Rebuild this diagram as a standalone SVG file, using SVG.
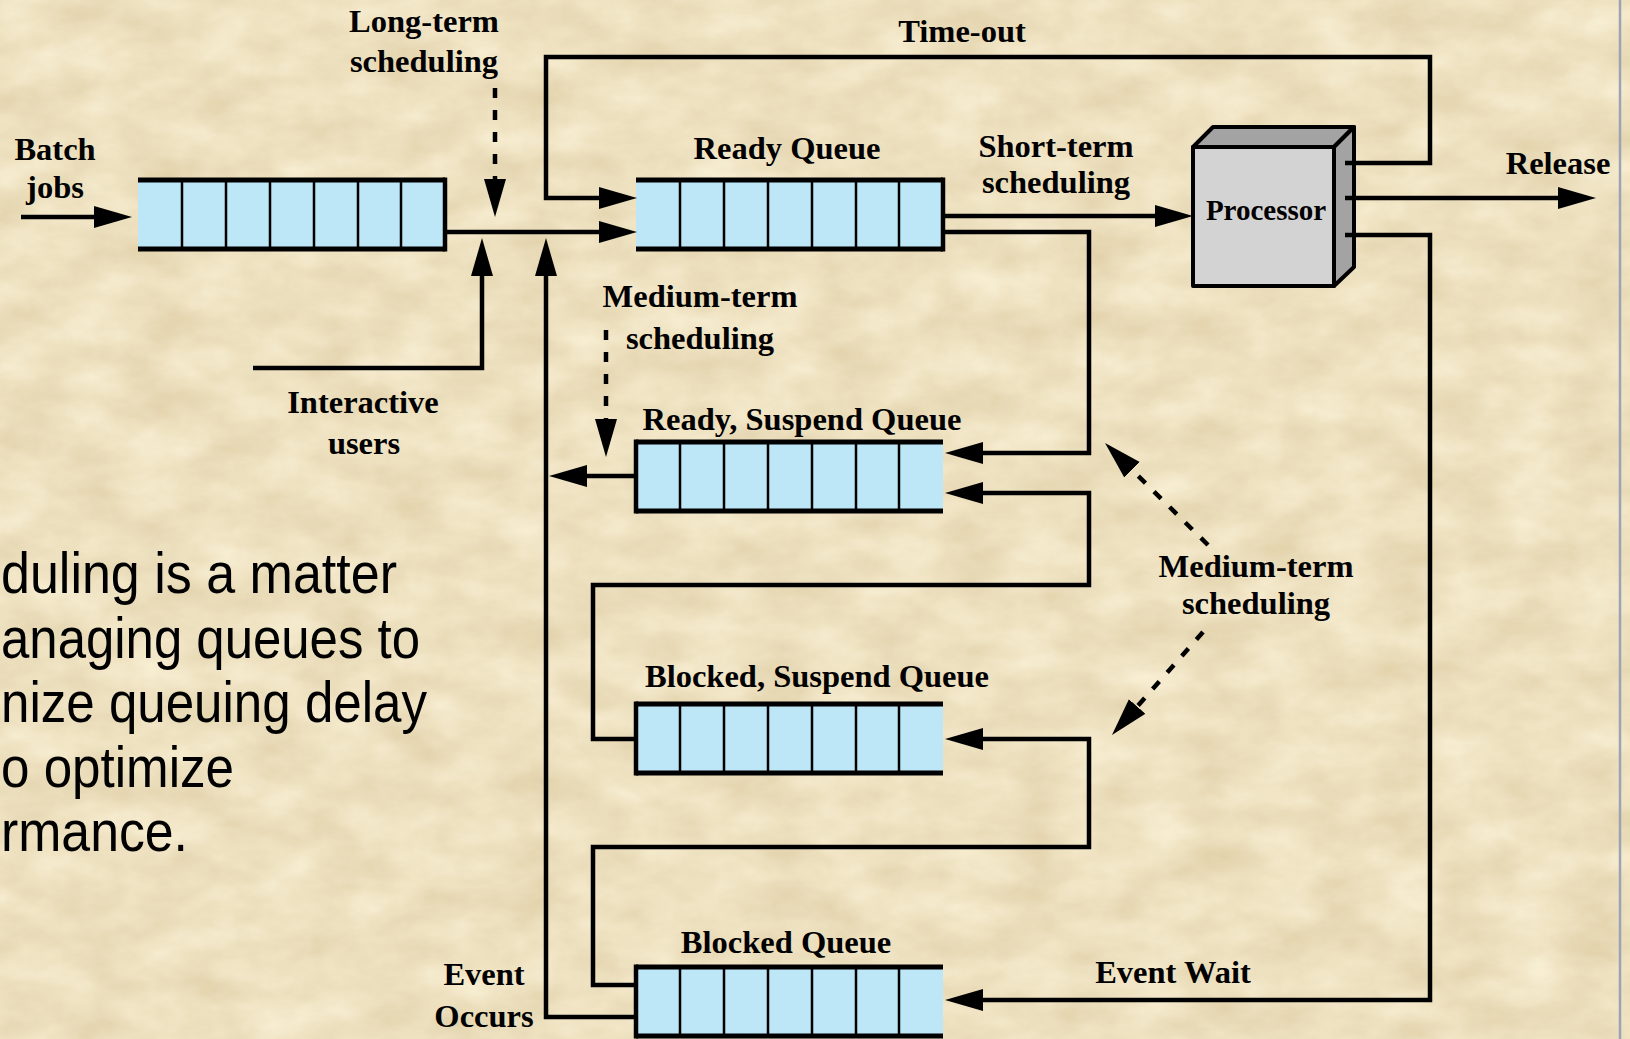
<svg xmlns="http://www.w3.org/2000/svg" xmlns:xlink="http://www.w3.org/1999/xlink" width="1630" height="1039" viewBox="0 0 1630 1039">
  <style>
    .lbl { font-family: "Liberation Serif", "Times New Roman", serif; font-weight: bold; font-size: 32.5px; fill: #000; text-anchor: middle; }
    .proc { font-size: 29px; }
    .body { font-family: "Liberation Sans", Arial, sans-serif; font-size: 58px; fill: #000; }
    .wire { fill: none; stroke: #000; stroke-width: 4.5; stroke-linejoin: miter; }
    .arrow { marker-end: url(#ah); }
    .dash { stroke-dasharray: 10 12; }
    .cell { fill: #bde6f7; }
    .rail { stroke: #000; stroke-width: 5; fill: none; }
    .div { stroke: #000; stroke-width: 2.5; }
    .end { stroke: #000; stroke-width: 4.5; }
  </style>
  <defs>
    <filter id="parchment" filterUnits="userSpaceOnUse" x="0" y="0" width="1630" height="1039" color-interpolation-filters="sRGB">
      <feTurbulence type="fractalNoise" baseFrequency="0.016 0.026" numOctaves="6" seed="11" result="noise"/>
      <feColorMatrix in="noise" type="matrix" values="0.1 0 0 0 0.88  0.13 0 0 0 0.815  0.18 0 0 0 0.66  0 0 0 0 1"/>
    </filter>
    <marker id="ah" markerUnits="userSpaceOnUse" markerWidth="40" markerHeight="24" viewBox="0 0 40 24" refX="20" refY="12" orient="auto">
      <path d="M0,1 L38,12 L0,23 Z" fill="#000"/>
    </marker>
    <!-- seven-slot queue body, 307 x 69 -->
    <g id="queue-body">
      <rect class="cell" x="0" y="0" width="307" height="69"/>
      <path class="div" d="M44,0 V69 M88,0 V69 M132,0 V69 M176,0 V69 M220,0 V69 M263,0 V69"/>
      <path class="rail" d="M0,0 H307 M0,69 H307"/>
    </g>
    <!-- head of the queue on the right -->
    <g id="queue-r">
      <use xlink:href="#queue-body"/>
      <path class="end" d="M307,-2.5 V71.5"/>
    </g>
    <!-- head of the queue on the left -->
    <g id="queue-l">
      <use xlink:href="#queue-body"/>
      <path class="end" d="M0,-2.5 V71.5"/>
    </g>
  </defs>

  <!-- paper background -->
  <rect x="0" y="0" width="1630" height="1039" filter="url(#parchment)"/>
  <line x1="1620" y1="0" x2="1620" y2="1039" stroke="#9ca3b4" stroke-width="2.5"/>

  <!-- slide text -->
  <g id="body-text" class="body">
    <text x="1" y="593" textLength="396" lengthAdjust="spacingAndGlyphs">duling is a matter</text>
    <text x="1" y="657.5" textLength="419" lengthAdjust="spacingAndGlyphs">anaging queues to</text>
    <text x="1" y="722" textLength="426" lengthAdjust="spacingAndGlyphs">nize queuing delay</text>
    <text x="1" y="786.5" textLength="233" lengthAdjust="spacingAndGlyphs">o optimize</text>
    <text x="1" y="851" textLength="187" lengthAdjust="spacingAndGlyphs">rmance.</text>
  </g>

  <!-- queues -->
  <g id="batch-queue">
    <use xlink:href="#queue-r" transform="translate(138,180)"/>
  </g>
  <g id="ready-queue">
    <use xlink:href="#queue-r" transform="translate(636,180)"/>
    <text class="lbl" x="787" y="159">Ready Queue</text>
  </g>
  <g id="ready-suspend-queue">
    <use xlink:href="#queue-l" transform="translate(636,442)"/>
    <text class="lbl" x="802" y="430">Ready, Suspend Queue</text>
  </g>
  <g id="blocked-suspend-queue">
    <use xlink:href="#queue-l" transform="translate(636,704)"/>
    <text class="lbl" x="817" y="687">Blocked, Suspend Queue</text>
  </g>
  <g id="blocked-queue">
    <use xlink:href="#queue-l" transform="translate(636,967)"/>
    <text class="lbl" x="786" y="953">Blocked Queue</text>
  </g>

  <!-- processor block -->
  <g id="processor" stroke="#000" stroke-width="4" stroke-linejoin="round">
    <path d="M1193,147 L1213,127 H1354 L1334,147 Z" fill="#a3a3a3"/>
    <path d="M1334,147 L1354,127 V267 L1334,286 Z" fill="#a3a3a3"/>
    <rect x="1193" y="147" width="141" height="139" fill="#d3d3d3"/>
    <text class="lbl proc" x="1266" y="220" stroke="none">Processor</text>
  </g>

  <!-- connectors -->
  <g id="connectors">
    <path class="wire arrow" d="M21,217 H114"/>
    <path class="wire arrow" d="M445,232 H619"/>
    <path class="wire arrow dash" d="M495,88 V199"/>
    <path class="wire arrow" d="M253,368 H482 V256"/>
    <path class="wire arrow" d="M636,1017 H546 V256"/>
    <path class="wire arrow" d="M636,476 H567"/>
    <path class="wire arrow" d="M1345,163 H1430 V57 H546 V198 H619"/>
    <path class="wire arrow" d="M943,216 H1175"/>
    <path class="wire arrow" d="M1345,198 H1578"/>
    <path class="wire arrow" d="M943,232 H1089 V453 H963"/>
    <path class="wire arrow" d="M636,739 H593 V585 H1089 V493 H963"/>
    <path class="wire arrow" d="M636,985 H593 V847 H1089 V739 H963"/>
    <path class="wire arrow" d="M1345,235 H1430 V1000 H963"/>
    <path class="wire arrow dash" d="M606,330 V439"/>
    <path class="wire arrow dash" d="M1208,545 L1117.8,455.7"/>
    <path class="wire arrow dash" d="M1203,632 L1123.9,721.5"/>
  </g>

  <!-- labels -->
  <g id="labels" class="lbl">
    <text x="424" y="32">Long-term</text>
    <text x="424" y="72">scheduling</text>
    <text x="962" y="42">Time-out</text>
    <text x="55" y="160">Batch</text>
    <text x="55" y="198">jobs</text>
    <text x="1056" y="157">Short-term</text>
    <text x="1056" y="193">scheduling</text>
    <text x="1558" y="174">Release</text>
    <text x="700" y="307">Medium-term</text>
    <text x="700" y="349">scheduling</text>
    <text x="363" y="413">Interactive</text>
    <text x="364" y="454">users</text>
    <text x="1256" y="577">Medium-term</text>
    <text x="1256" y="614">scheduling</text>
    <text x="1173" y="983">Event Wait</text>
    <text x="484" y="985">Event</text>
    <text x="484" y="1027">Occurs</text>
  </g>
</svg>
